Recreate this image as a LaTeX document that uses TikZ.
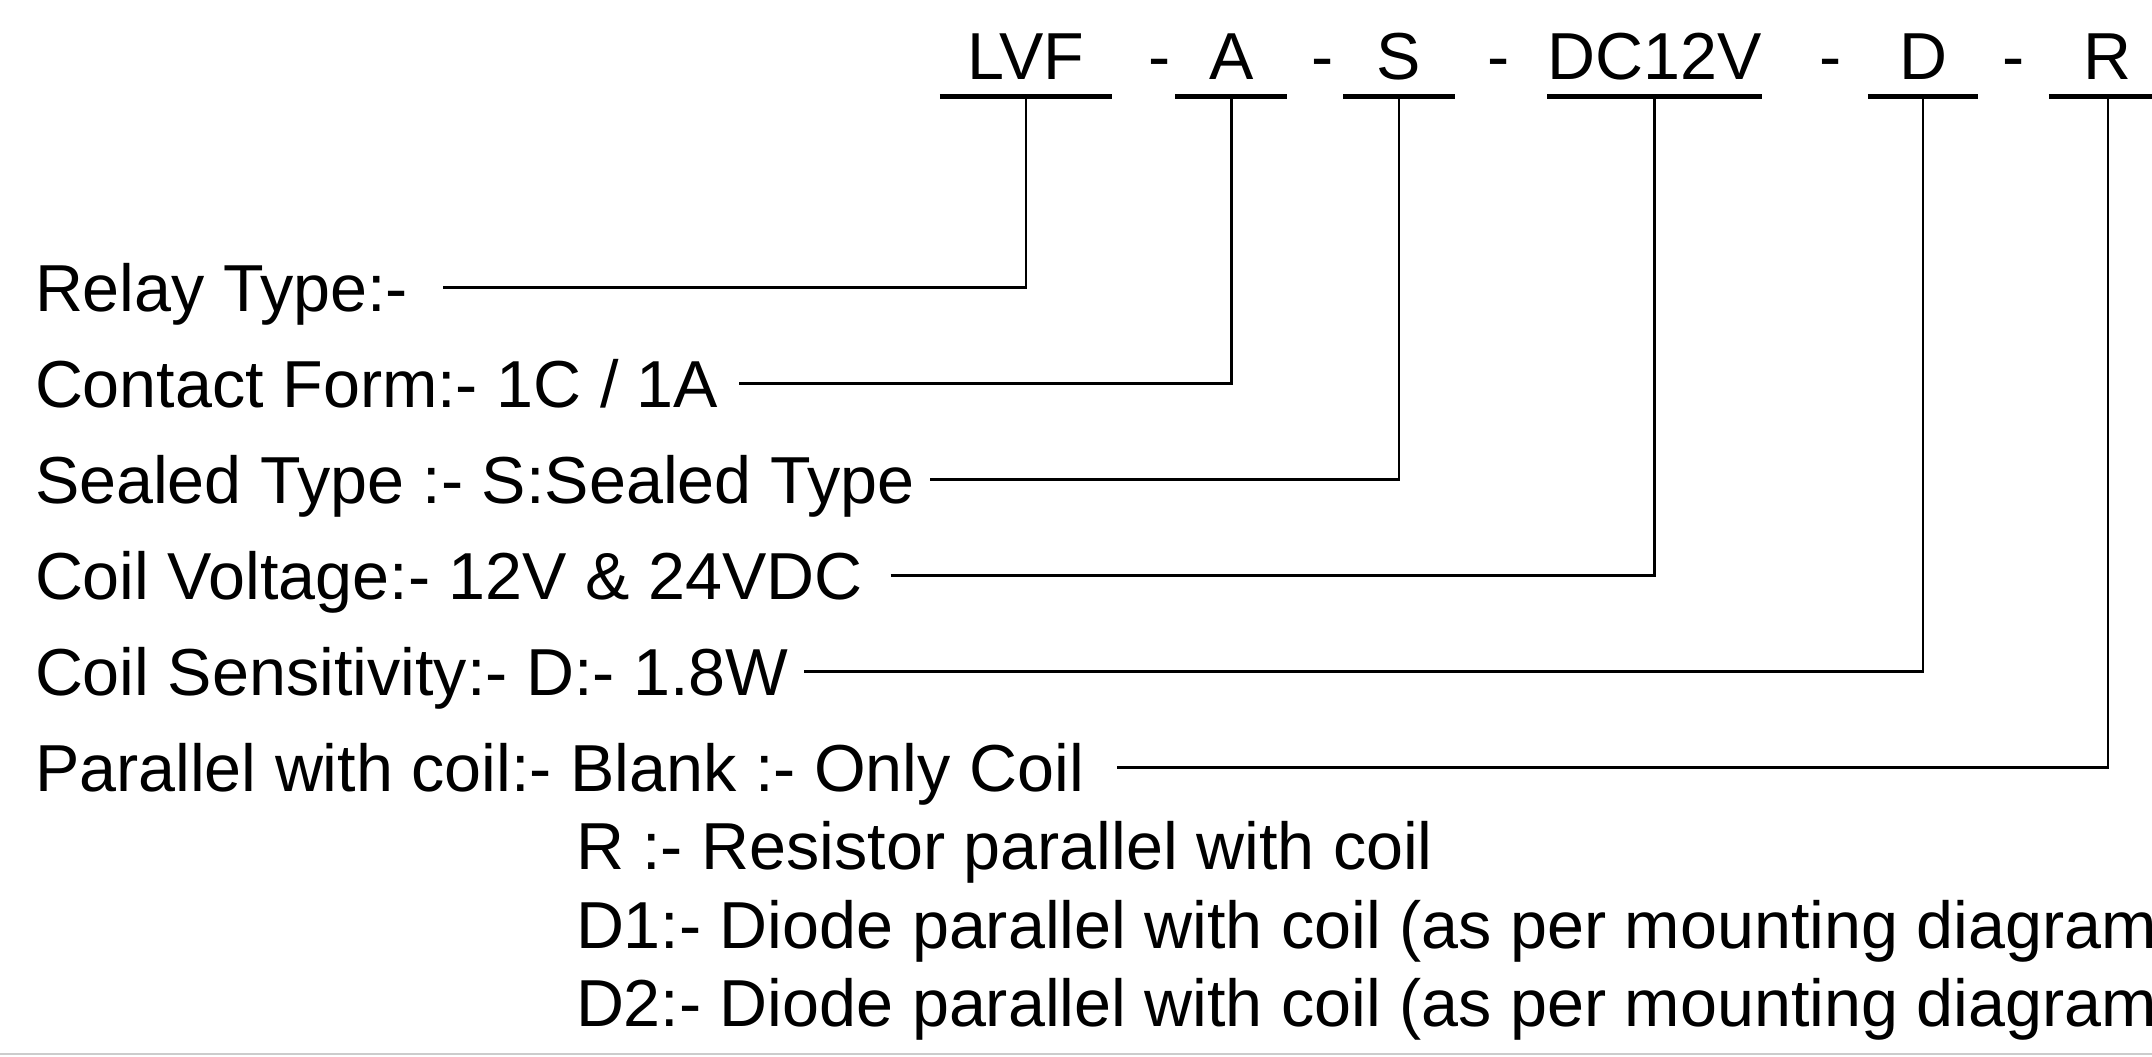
\documentclass[tikz,border=0pt]{standalone}
\usepackage{fontspec}
\setmainfont{Liberation Sans}
\usetikzlibrary{calc}

\tikzset{
	code/.style={anchor=base, inner xsep=0pt, inner ysep=0.17cm, outer sep=0pt, text depth=0pt},
	bar/.style={line width=1.6pt},
	lbl/.style={anchor=base west, inner sep=0pt, outer sep=0pt, text height=13.5pt, text depth=0pt},
	lead/.style={line width=0.7pt, shorten <=#1},
}

\begin{document}
\begin{tikzpicture}[x=0.01cm, y=-0.01cm, every node/.style={font=\fontsize{18.9}{22.7}\selectfont}]
		%%%%% START %%%%%
		\useasboundingbox (0, 0) rectangle (2152, 1056);
		\clip (0, 0) rectangle (2152, 1056);
		
		% part number
		\node[code, minimum width=1.716cm] (lvf) at (1025.8, 79.6) {LVF};
		\node[code, minimum width=1.119cm] (a) at (1231.4, 79.6) {A};
		\node[code, minimum width=1.118cm] (s) at (1399, 79.6) {S};
		\node[code, minimum width=2.132cm] (dcv) at (1654.4, 79.6) {DC12V};
		\node[code, minimum width=1.100cm] (d) at (1923, 79.6) {D};
		\node[code, minimum width=1.176cm] (r) at (2107.7, 79.6) {R};
		
		\node[anchor=base] (dash1) at (1159.5, 79.6) {-};
		\node[anchor=base] (dash2) at (1323, 79.6) {-};
		\node[anchor=base] (dash3) at (1498.9, 79.6) {-};
		\node[anchor=base] (dash4) at (1830.3, 79.6) {-};
		\node[anchor=base] (dash5) at (2013.9, 79.6) {-};
		
		\draw[bar] (lvf.south west) -- (lvf.south east);
		\draw[bar] (a.south west) -- (a.south east);
		\draw[bar] (s.south west) -- (s.south east);
		\draw[bar] (dcv.south west) -- (dcv.south east);
		\draw[bar] (d.south west) -- (d.south east);
		\draw[bar] (r.south west) -- (r.south east);
		
		% descriptions
		\node[lbl] (relay) at (35, 311) {Relay Type:-};
		\node[lbl] (contact) at (35, 407) {Contact Form:- 1C / 1A};
		\node[lbl] (sealed) at (35, 503) {Sealed Type :- S:Sealed Type};
		\node[lbl] (voltage) at (35, 599) {Coil Voltage:- 12V \& 24VDC};
		\node[lbl] (sense) at (35, 695) {Coil Sensitivity:- D:- 1.8W};
		\node[lbl] (parallel) at (35, 791) {Parallel with coil:- Blank :- Only Coil};
		\node[lbl] (optr) at (576, 869) {R :- Resistor parallel with coil};
		\node[lbl] (optd1) at (576, 948) {D1:- Diode parallel with coil (as per mounting diagram};
		\node[lbl] (optd2) at (576, 1026) {D2:- Diode parallel with coil (as per mounting diagram};
		
		\draw[lead=10pt] (relay.east) -| (lvf.south);
		\draw[lead=6pt] (contact.east) -| (a.south);
		\draw[lead=4.5pt] (sealed.east) -| (s.south);
		\draw[lead=8pt] (voltage.east) -| (dcv.south);
		\draw[lead=4.5pt] (sense.east) -| (d.south);
		\draw[lead=9.5pt] (parallel.east) -| (r.south);
		
		\draw[black!20, line width=0.8pt] (0, 1054) -- (2152, 1054);
		%%%%% END %%%%%
\end{tikzpicture}
\end{document}
